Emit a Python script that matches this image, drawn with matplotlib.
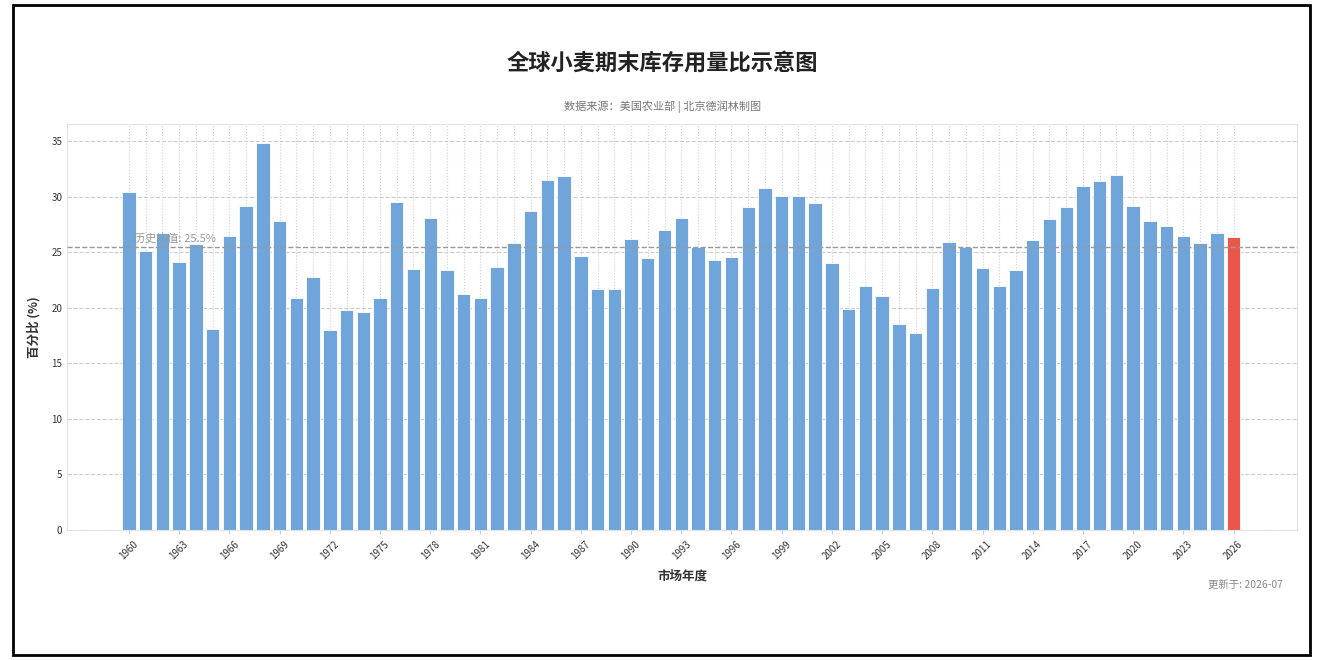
import matplotlib
matplotlib.use('Agg')
import matplotlib.pyplot as plt
import matplotlib.patches as mpatches
from matplotlib.ticker import MultipleLocator, FixedLocator

plt.rcParams['font.family'] = ['Noto Sans CJK SC', 'DejaVu Sans']

# ── Data ─────────────────────────────────────────────────────────────────────
years = list(range(1960, 2027))
ratio = [
    30.4, 25.1, 26.7, 24.1, 25.7, 18.1, 26.5, 29.2, 34.8, 27.8,   # 1960-1969
    20.9, 22.8, 18.0, 19.8, 19.6, 20.9, 29.5, 23.5, 28.1, 23.4,   # 1970-1979
    21.2, 20.9, 23.7, 25.8, 28.7, 31.5, 31.9, 24.7, 21.7, 21.7,   # 1980-1989
    26.2, 24.5, 27.0, 28.1, 25.5, 24.3, 24.6, 29.1, 30.8, 30.1,   # 1990-1999
    30.1, 29.4, 24.0, 19.9, 22.0, 21.1, 18.5, 17.7, 21.8, 25.9,   # 2000-2009
    25.5, 23.6, 22.0, 23.4, 26.1, 28.0, 29.1, 31.0, 31.4, 32.0,   # 2010-2019
    29.2, 27.8, 27.4, 26.5, 25.8, 26.7, 26.4,                     # 2020-2026
]
tick_years = years[::3]
hist_mean = 25.5
highlight_year = 2026

title = '全球小麦期末库存用量比示意图'
subtitle = '数据来源：美国农业部 | 北京德润林制图'
xlabel = '市场年度'
ylabel = '百分比 (%)'
mean_label = f'历史均值: {hist_mean}%'
update_note = '更新于: 2026-07'

BLUE = '#6fa5db'
RED = '#e8574a'

# ── Plot ─────────────────────────────────────────────────────────────────────
fig = plt.figure(figsize=(13.25, 6.6), dpi=100)
fig.patch.set_facecolor('white')
ax = fig.add_axes([0.0506, 0.197, 0.9284, 0.615])

colors = [RED if y == highlight_year else BLUE for y in years]
ax.bar(years, ratio, width=0.8, color=colors, edgecolor='white',
       linewidth=0.6, zorder=2)

ax.axhline(hist_mean, color='#999999', linestyle='--', linewidth=1.0, zorder=3)
ax.text(years[0] + 0.3, hist_mean + 0.3, mean_label, fontsize=8,
        color='#999999', ha='left', va='bottom', zorder=4)

ax.set_xlim(1956.3, 2029.8)
ax.set_ylim(0, max(ratio) * 1.05)
ax.xaxis.set_major_locator(FixedLocator(tick_years))
ax.xaxis.set_minor_locator(FixedLocator(years))
ax.yaxis.set_major_locator(MultipleLocator(5))
ax.tick_params(axis='x', which='major', labelsize=7, rotation=45, length=3,
               color='#cccccc', labelcolor='#333333')
ax.tick_params(axis='x', which='minor', length=0)
ax.tick_params(axis='y', labelsize=7, length=0, labelcolor='#333333')
for lbl in ax.get_xticklabels():
    lbl.set_ha('center')

ax.grid(True, which='both', axis='x', linestyle=':', color='#cccccc',
        linewidth=0.8, zorder=0)
ax.grid(True, which='major', axis='y', linestyle='--', color='#cccccc',
        linewidth=0.8, zorder=0)
ax.set_axisbelow(True)
for sp in ax.spines.values():
    sp.set_color('#e2e2e2')

ax.set_xlabel(xlabel, fontsize=9, fontweight='bold', color='#333333', labelpad=6)
ax.set_ylabel(ylabel, fontsize=9, fontweight='bold', color='#333333', labelpad=8)

fig.text(0.5, 0.905, title, ha='center', va='center', fontsize=16,
         fontweight='bold', color='#222222')
fig.text(0.5, 0.838, subtitle, ha='center', va='center', fontsize=8,
         color='#777777')
fig.text(0.968, 0.113, update_note, ha='right', va='center', fontsize=7.5,
         color='#888888')

# outer frame
fig.add_artist(mpatches.Rectangle((0.0095, 0.008), 0.979, 0.984,
                                  transform=fig.transFigure, fill=False,
                                  edgecolor='black', linewidth=2))

fig.savefig('out.png', dpi=100, facecolor='white')
plt.close(fig)
